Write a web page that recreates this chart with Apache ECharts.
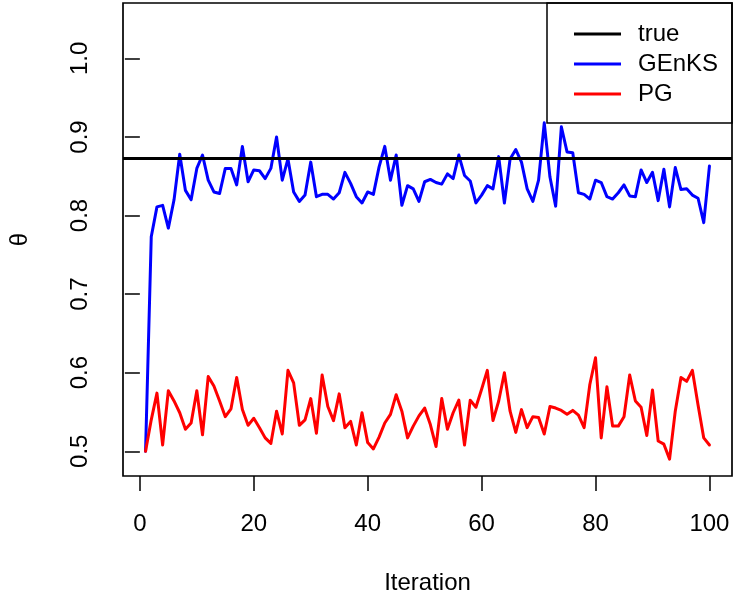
<!DOCTYPE html>
<html>
<head>
<meta charset="utf-8">
<script src="https://cdn.jsdelivr.net/npm/echarts@6/dist/echarts.min.js"></script>
<style>html,body{margin:0;padding:0;background:#fff}#chart{width:750px;height:600px}</style>
</head>
<body>
<div id="chart"></div>
<script>
const iterations = [1,2,3,4,5,6,7,8,9,10,11,12,13,14,15,16,17,18,19,20,21,22,23,24,25,26,27,28,29,30,31,32,33,34,35,36,37,38,39,40,41,42,43,44,45,46,47,48,49,50,51,52,53,54,55,56,57,58,59,60,61,62,63,64,65,66,67,68,69,70,71,72,73,74,75,76,77,78,79,80,81,82,83,84,85,86,87,88,89,90,91,92,93,94,95,96,97,98,99,100];
const genks = [0.500,0.773,0.811,0.813,0.784,0.820,0.878,0.832,0.820,0.860,
0.877,0.845,0.830,0.828,0.860,0.860,0.839,0.888,0.843,0.858,
0.857,0.847,0.860,0.900,0.845,0.872,0.830,0.818,0.826,0.868,
0.824,0.827,0.827,0.821,0.829,0.855,0.841,0.824,0.816,0.830,
0.827,0.862,0.888,0.845,0.877,0.813,0.838,0.834,0.818,0.843,
0.846,0.842,0.840,0.853,0.847,0.877,0.851,0.844,0.816,0.826,
0.838,0.834,0.875,0.816,0.872,0.884,0.868,0.834,0.818,0.845,
0.918,0.849,0.812,0.913,0.881,0.880,0.829,0.827,0.821,0.845,
0.842,0.824,0.821,0.829,0.839,0.825,0.824,0.858,0.842,0.855,
0.819,0.859,0.811,0.861,0.833,0.834,0.826,0.822,0.791,0.863];
const pg = [0.500,0.540,0.574,0.508,0.577,0.564,0.549,0.528,0.536,0.577,
0.521,0.595,0.583,0.564,0.544,0.554,0.594,0.553,0.533,0.542,
0.530,0.517,0.510,0.551,0.522,0.603,0.587,0.533,0.540,0.567,
0.523,0.597,0.557,0.539,0.573,0.530,0.538,0.508,0.549,0.511,
0.503,0.518,0.536,0.547,0.572,0.551,0.517,0.532,0.545,0.555,
0.534,0.506,0.567,0.528,0.549,0.565,0.508,0.565,0.556,0.579,
0.603,0.539,0.564,0.600,0.551,0.524,0.553,0.530,0.544,0.543,
0.522,0.557,0.555,0.552,0.547,0.552,0.546,0.530,0.585,0.619,
0.517,0.582,0.532,0.532,0.544,0.597,0.564,0.556,0.520,0.578,
0.513,0.509,0.490,0.551,0.594,0.589,0.603,0.559,0.517,0.508];
const trueValue = 0.8735;
const xTicks = [0,20,40,60,80,100];
const yTicks = [0.5,0.6,0.7,0.8,0.9,1.0];
const seriesNames = ['true','GEnKS','PG'];

const FONT = 'Liberation Sans, Arial, Helvetica, sans-serif';
const chart = echarts.init(document.getElementById('chart'), null, {renderer:'canvas'});
const pair = arr => iterations.map((x,i)=>[x, arr[i]]);
chart.setOption({
  animation:false,
  backgroundColor:'#fff',
  textStyle:{fontFamily:FONT},
  grid:{left:123, top:3, right:18, bottom:124, show:true, borderColor:'#000', borderWidth:1.7, backgroundColor:'transparent'},
  xAxis:{
    type:'value', min:-2.96, max:103.96,
    name:'Iteration', nameLocation:'middle', nameGap:95,
    nameTextStyle:{fontSize:24, color:'#000', fontFamily:FONT},
    axisLine:{show:false},
    splitLine:{show:false},
    axisTick:{show:true, length:15, lineStyle:{color:'#000', width:1.5}, customValues:xTicks},
    axisLabel:{fontSize:24, color:'#000', margin:36, fontFamily:FONT, customValues:xTicks, formatter:v=>String(v)}
  },
  yAxis:{
    type:'value', min:0.4685, max:1.0705,
    name:'θ', nameLocation:'middle', nameGap:91, nameRotate:90,
    nameTextStyle:{fontSize:24, color:'#000', fontFamily:FONT},
    axisLine:{show:false},
    splitLine:{show:false},
    axisTick:{show:true, length:15, lineStyle:{color:'#000', width:1.5}, customValues:yTicks},
    axisLabel:{fontSize:24, color:'#000', margin:31, rotate:90, fontFamily:FONT, customValues:yTicks, formatter:v=>v.toFixed(1)}
  },
  legend:{
    left:569, top:17, orient:'vertical', icon:'rect', itemWidth:47, itemHeight:3, itemGap:6,
    data:seriesNames,
    textStyle:{fontSize:24, color:'#000', lineHeight:24, padding:[0,0,0,12], fontFamily:FONT}
  },
  graphic:[{type:'rect', shape:{x:547, y:3, width:185, height:120}, style:{fill:'#fff', stroke:'#000', lineWidth:1.5}, z:-1, zlevel:0}],
  series:[
    {name:'GEnKS', type:'line', data:pair(genks), symbol:'none', color:'#0000ff', lineStyle:{width:3, color:'#0000ff', cap:'round', join:'round'}, z:2},
    {name:'PG', type:'line', data:pair(pg), symbol:'none', color:'#ff0000', lineStyle:{width:3, color:'#ff0000', cap:'round', join:'round'}, z:3},
    {name:'true', type:'line', data:[], symbol:'none', color:'#000', lineStyle:{width:3, color:'#000'}, z:4,
      markLine:{silent:true, symbol:'none', precision:6, label:{show:false}, lineStyle:{color:'#000', width:3, type:'solid'}, data:[{yAxis:trueValue}]}}
  ]
});
</script>
</body>
</html>
